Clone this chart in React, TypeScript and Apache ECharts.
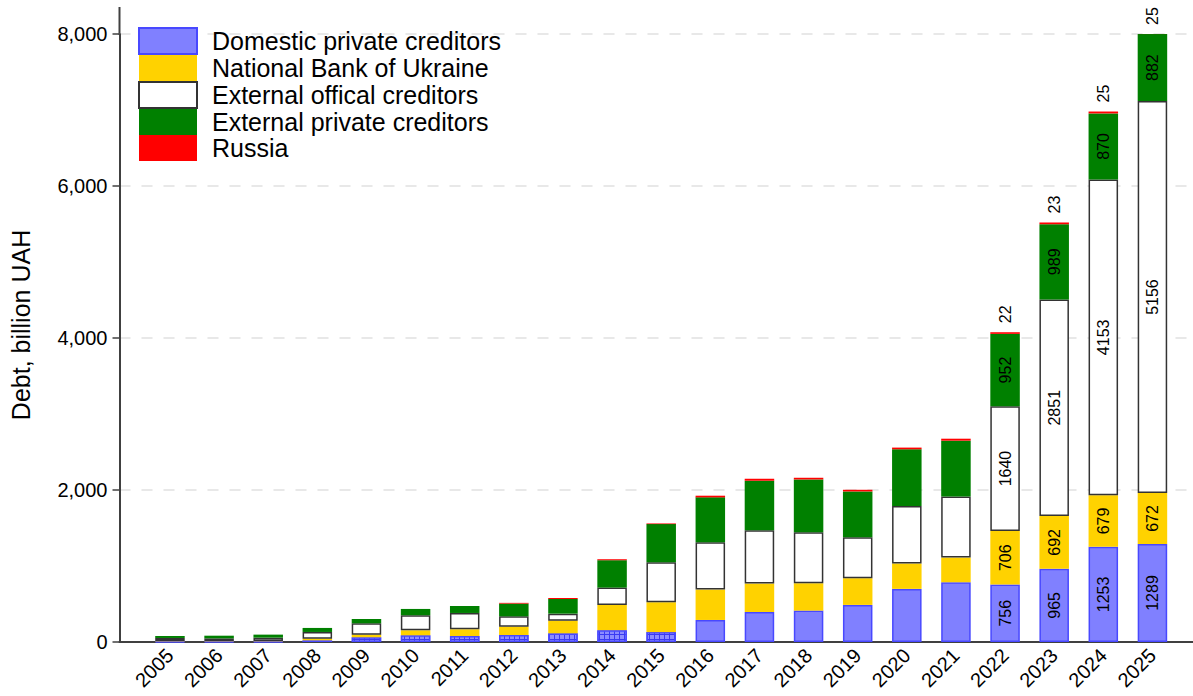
import React, { useEffect, useRef } from 'react';
import * as echarts from 'echarts';

const years = ['2005', '2006', '2007', '2008', '2009', '2010', '2011', '2012', '2013', '2014', '2015', '2016', '2017', '2018', '2019', '2020', '2021', '2022', '2023', '2024', '2025'];
const domestic = [8, 8, 8, 22, 62, 88, 79, 92, 114, 156, 130, 290, 395, 413, 488, 699, 786, 756, 965, 1253, 1289];
const nbu = [5, 5, 5, 22, 35, 66, 88, 110, 167, 332, 393, 400, 374, 360, 351, 334, 325, 706, 692, 679, 672];
const extOfficial = [40, 35, 44, 88, 149, 198, 215, 136, 92, 228, 527, 624, 703, 672, 540, 756, 804, 1640, 2851, 4153, 5156];
const extPrivate = [26, 35, 40, 53, 57, 83, 92, 167, 193, 360, 501, 589, 650, 694, 602, 747, 734, 952, 989, 870, 882];
const russia = [0, 0, 0, 0, 0, 0, 0, 10, 13, 13, 9, 22, 26, 22, 22, 22, 26, 22, 23, 25, 25];
const seriesNames = ['Domestic private creditors', 'National Bank of Ukraine', 'External offical creditors', 'External private creditors', 'Russia'];
const yTickValues = [0, 2000, 4000, 6000, 8000];
const labeledYears = ['2022', '2023', '2024', '2025'];
const hatchedUntil = 2015;

const FONT = '"Liberation Sans", Arial, Helvetica, sans-serif';

function buildData(vals: number[], hatch = false) {
  return years.map((y, i) => {
    const item: any = { value: vals[i] };
    if (labeledYears.includes(y)) item.label = { show: true };
    if (hatch && Number(y) <= hatchedUntil) {
      item.itemStyle = {
        color: '#3a3af2',
        decal: {
          symbol: 'rect',
          symbolSize: 1,
          color: '#8c8cff',
          dashArrayX: [4, 1],
          dashArrayY: [4, 1],
          rotation: 0,
        },
      };
    }
    return item;
  });
}

export default function App() {
  const ref = useRef<HTMLDivElement>(null);
  useEffect(() => {
    if (!ref.current) return;
    const chart = echarts.init(ref.current, null, { renderer: 'svg' });
    const insideLabel = {
      show: false,
      position: 'inside',
      rotate: 90,
      fontSize: 16,
      color: '#000',
      fontFamily: FONT,
    };
    const BW = 29.5;
    const yMin = yTickValues[0];
    const yMax = yTickValues[yTickValues.length - 1];
    const option: any = {
      animation: false,
      backgroundColor: '#fff',
      textStyle: { fontFamily: FONT },
      grid: [
        { left: 145.4, right: 16, top: 34, bottom: 54, containLabel: false },
        { left: 119.5, right: 0, top: 34, bottom: 54, containLabel: false },
      ],
      legend: {
        orient: 'vertical',
        left: 138,
        top: 27,
        padding: 0,
        itemWidth: 58,
        itemHeight: 26,
        itemGap: 0,
        icon: 'rect',
        selectedMode: false,
        textStyle: { fontSize: 25, color: '#000', fontFamily: FONT, lineHeight: 26, padding: [0, 0, 0, 10] },
        data: seriesNames,
      },
      xAxis: [
        {
          type: 'category',
          gridIndex: 0,
          data: years,
          axisLine: { show: false },
          axisTick: { show: false },
          splitLine: { show: false },
          axisLabel: {
            rotate: 45,
            margin: 10,
            fontSize: 20,
            color: '#000',
            fontFamily: FONT,
            interval: 0,
          },
        },
        {
          type: 'value',
          gridIndex: 1,
          min: 0,
          max: 1,
          axisLine: { show: true, lineStyle: { color: '#404040', width: 2 } },
          axisTick: { show: false },
          axisLabel: { show: false },
          splitLine: { show: false },
        },
      ],
      yAxis: [
        {
          type: 'value',
          gridIndex: 0,
          min: yMin,
          max: yMax,
          interval: 2000,
          show: false,
          splitLine: { show: false },
        },
        {
          type: 'value',
          gridIndex: 1,
          min: yMin,
          max: yMax,
          interval: 2000,
          name: 'Debt, billion UAH',
          nameLocation: 'middle',
          nameRotate: 90,
          nameGap: 86,
          nameTextStyle: { fontSize: 25, color: '#000', fontFamily: FONT, padding: [0, 0, 0, 26] },
          axisLine: { show: true, lineStyle: { color: '#404040', width: 2 } },
          axisTick: { show: true, length: 7, lineStyle: { color: '#404040', width: 1.5 } },
          axisLabel: {
            margin: 12,
            fontSize: 20,
            color: '#000',
            fontFamily: FONT,
            formatter: (v: number) => v.toLocaleString('en-US'),
          },
          splitLine: { show: true, lineStyle: { color: '#e8e8e8', width: 2, type: [11, 11] } },
        },
      ],
      graphic: [
        {
          type: 'line',
          shape: { x1: 119.5, y1: 7, x2: 119.5, y2: 35 },
          style: { stroke: '#404040', lineWidth: 2 },
          silent: true,
        },
      ],
      series: [
        {
          name: seriesNames[0],
          type: 'bar',
          stack: 'debt',
          barWidth: BW,
          itemStyle: { color: '#8080ff', borderColor: '#4848ff', borderWidth: 1.5 },
          label: insideLabel,
          data: buildData(domestic, true),
        },
        {
          name: seriesNames[1],
          type: 'bar',
          stack: 'debt',
          barWidth: BW,
          itemStyle: { color: '#ffd200' },
          label: insideLabel,
          data: buildData(nbu),
        },
        {
          name: seriesNames[2],
          type: 'bar',
          stack: 'debt',
          barWidth: BW,
          itemStyle: { color: '#ffffff', borderColor: '#333333', borderWidth: 1.5 },
          label: insideLabel,
          data: buildData(extOfficial),
        },
        {
          name: seriesNames[3],
          type: 'bar',
          stack: 'debt',
          barWidth: BW,
          itemStyle: { color: '#008000' },
          label: insideLabel,
          data: buildData(extPrivate),
        },
        {
          name: seriesNames[4],
          type: 'bar',
          stack: 'debt',
          barWidth: BW,
          itemStyle: { color: '#ff0000' },
          label: {
            show: false,
            position: 'top',
            rotate: 90,
            align: 'left',
            verticalAlign: 'middle',
            distance: 9,
            fontSize: 16,
            color: '#000',
            fontFamily: FONT,
          },
          data: buildData(russia),
        },
      ],
    };
    chart.setOption(option);
    return () => chart.dispose();
  }, []);
  return (
    <div
      ref={ref}
      style={{ position: 'fixed', left: 0, top: 0, width: 1193, height: 696, background: '#fff' }}
    />
  );
}
